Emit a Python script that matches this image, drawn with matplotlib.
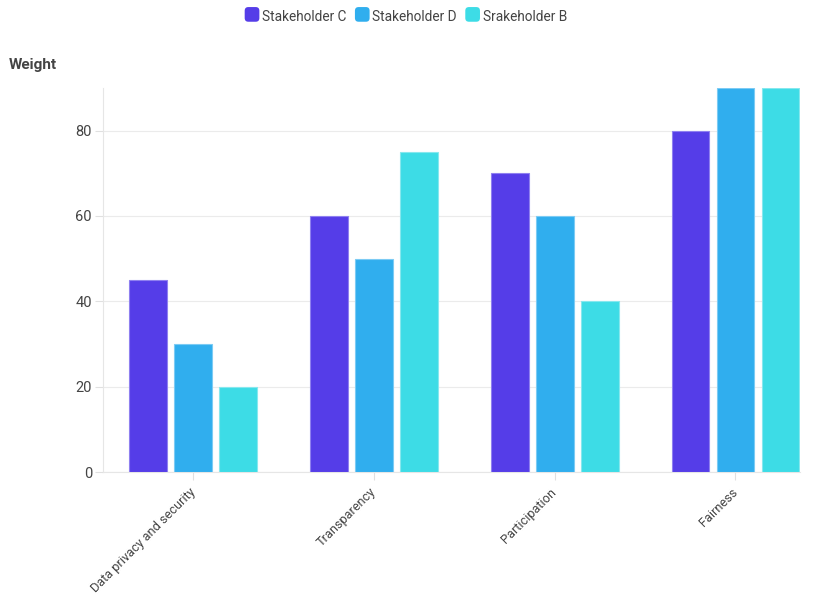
import matplotlib.pyplot as plt
from matplotlib.patches import FancyBboxPatch, Patch
from matplotlib.legend_handler import HandlerPatch
import numpy as np

categories = ["Data privacy and security", "Transparency", "Participation", "Fairness"]
series_names = ["Stakeholder C", "Stakeholder D", "Srakeholder B"]
stakeholder_c = [45, 60, 70, 80]
stakeholder_d = [30, 50, 60, 90]
stakeholder_b = [20, 75, 40, 90]
y_ticks = [0, 20, 40, 60, 80]

fills = ["#553de8", "#30aeee", "#3ddce6"]
edges = ["#8f80f0", "#7ccbf4", "#86e8ee"]

plt.rcParams['font.family'] = ['Roboto', 'DejaVu Sans']

fig = plt.figure(figsize=(8.13, 5.95), dpi=100)
ax = fig.add_axes([103/813, 123/595, 697/813, 384/595])

x = np.arange(len(categories))
offsets = [-0.249, 0.0, 0.249]
for vals, off, fc, ec, name in zip([stakeholder_c, stakeholder_d, stakeholder_b],
                                   offsets, fills, edges, series_names):
    ax.bar(x + off, vals, width=0.21, color=fc, edgecolor=ec, linewidth=0.8,
           label=name, zorder=3)

ax.set_ylim(0, 90)
ax.set_xlim(-0.5, 3.357)
ax.set_yticks(y_ticks)
ax.set_xticks(x)
ax.set_xticklabels(categories, rotation=45, ha='right', va='center',
                   rotation_mode='anchor', fontsize=9.2)
ax.grid(axis='y', color='#ebebeb', linewidth=0.8, zorder=0)
for s in ['top', 'right']:
    ax.spines[s].set_visible(False)
for s in ['left', 'bottom']:
    ax.spines[s].set_color('#e6e6e6')
    ax.spines[s].set_linewidth(0.8)
ax.tick_params(axis='y', colors='#e0e0e0', labelcolor='#444444',
               labelsize=10.5, length=6, width=0.8, pad=2)
ax.tick_params(axis='x', colors='#e0e0e0', labelcolor='#444444',
               length=6, width=0.8, pad=7)

fig.text(9/813, 1 - 65/595, "Weight", fontsize=11, fontweight='bold',
         color='#444444', va='center', ha='left')


class RoundHandler(HandlerPatch):
    def create_artists(self, legend, orig_handle, xdescent, ydescent, width,
                       height, fontsize, trans):
        size = min(width, height) * 1.3
        p = FancyBboxPatch((xdescent + (width - size) / 2, ydescent + (height - size) / 2),
                           size, size, boxstyle="round,pad=0,rounding_size=%f" % (size * 0.25),
                           facecolor=orig_handle.get_facecolor(), edgecolor='none',
                           transform=trans)
        return [p]


handles = [Patch(facecolor=fc, label=n) for fc, n in zip(fills, series_names)]
leg = fig.legend(handles=handles, loc='center', bbox_to_anchor=(0.5, 1 - 17/595),
                 ncol=3, frameon=False, fontsize=9.8, handlelength=0.9,
                 handleheight=0.9, handletextpad=0.3, columnspacing=0.7,
                 handler_map={Patch: RoundHandler()})
for t in leg.get_texts():
    t.set_color('#444444')

fig.savefig("out.png", dpi=100)
